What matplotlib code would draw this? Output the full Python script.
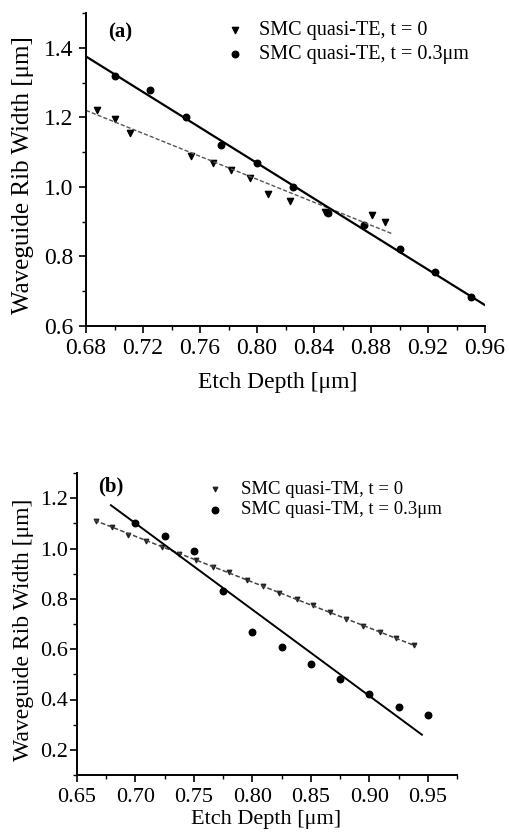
import matplotlib
matplotlib.use("Agg")
import matplotlib.pyplot as plt
from matplotlib.ticker import MultipleLocator, FormatStrFormatter

plt.rcParams['font.family'] = ['Liberation Serif', 'DejaVu Serif']
plt.rcParams['mathtext.fontset'] = 'stix'

# panel (a): quasi-TE
te0_x = [0.688, 0.700, 0.711, 0.754, 0.769, 0.782, 0.795, 0.808, 0.823, 0.848, 0.881, 0.890]
te0_y = [1.220, 1.195, 1.155, 1.090, 1.068, 1.048, 1.025, 0.980, 0.960, 0.928, 0.920, 0.900]
te0_fit_x = [0.680, 0.895]
te0_fit_y = [1.220, 0.865]

te3_x = [0.700, 0.725, 0.750, 0.775, 0.800, 0.825, 0.850, 0.875, 0.900, 0.925, 0.950]
te3_y = [1.320, 1.280, 1.200, 1.120, 1.070, 1.000, 0.925, 0.890, 0.820, 0.755, 0.682]
te3_fit_x = [0.680, 0.960]
te3_fit_y = [1.375, 0.660]

# panel (b): quasi-TM
tm0_x = [0.666, 0.680, 0.694, 0.709, 0.723, 0.737, 0.752, 0.766, 0.780, 0.795,
         0.809, 0.823, 0.838, 0.852, 0.866, 0.880, 0.895, 0.909, 0.923, 0.938]
tm0_y = [1.110, 1.085, 1.055, 1.030, 1.005, 0.978, 0.955, 0.928, 0.905, 0.875,
         0.850, 0.825, 0.798, 0.775, 0.748, 0.720, 0.693, 0.668, 0.643, 0.615]
tm0_fit_x = [0.665, 0.940]
tm0_fit_y = [1.112, 0.612]

tm3_x = [0.700, 0.725, 0.750, 0.775, 0.800, 0.825, 0.850, 0.875, 0.900, 0.925, 0.950]
tm3_y = [1.100, 1.050, 0.990, 0.830, 0.670, 0.610, 0.540, 0.480, 0.420, 0.370, 0.340]
tm3_fit_x = [0.679, 0.945]
tm3_fit_y = [1.172, 0.260]

W, H = 509, 836
fig = plt.figure(figsize=(W / 100, H / 100), dpi=100)

def px_axes(l, t, r, b):
    return fig.add_axes([l / W, 1 - b / H, (r - l) / W, (b - t) / H])

def style(ax, size):
    for s in ('top', 'right'):
        ax.spines[s].set_visible(False)
    for s in ('left', 'bottom'):
        ax.spines[s].set_linewidth(1.4)
    ax.tick_params(which='major', direction='out', length=5, width=1.2, labelsize=size)
    ax.tick_params(which='minor', direction='out', length=3, width=1.0)

ax1 = px_axes(86, 13, 485, 326)
ax1.plot(te0_fit_x, te0_fit_y, ls='--', lw=1.0, color='#555555', dashes=(3, 1.5))
ax1.plot(te3_fit_x, te3_fit_y, ls='-', lw=1.6, color='black')
ax1.scatter(te0_x, te0_y, marker='v', s=20, color='black', label='SMC quasi-TE, t = 0')
ax1.scatter(te3_x, te3_y, marker='o', s=22, color='black', label='SMC quasi-TE, t = 0.3μm')
ax1.set_xlim(0.68, 0.96)
ax1.set_ylim(0.6, 1.5)
ax1.xaxis.set_major_locator(MultipleLocator(0.04))
ax1.xaxis.set_minor_locator(MultipleLocator(0.02))
ax1.xaxis.set_major_formatter(FormatStrFormatter('%.2f'))
ax1.yaxis.set_major_locator(MultipleLocator(0.2))
ax1.yaxis.set_minor_locator(MultipleLocator(0.1))
ax1.yaxis.set_major_formatter(FormatStrFormatter('%.1f'))
style(ax1, 17)
ax1.tick_params(axis='x', which='major', pad=4)
ax1.tick_params(axis='y', which='major', pad=4)
ax1.set_xlabel('Etch Depth [μm]', fontsize=17)
ax1.xaxis.set_label_coords(0.48, -0.147)
ax1.set_ylabel('Waveguide Rib Width [μm]', fontsize=18)
ax1.yaxis.set_label_coords(-0.13, 0.482)
ax1.text(0.055, 0.939, '(a)', transform=ax1.transAxes, fontsize=15, fontweight='bold', va='center')
ax1.legend(loc='upper left', bbox_to_anchor=(0.315, 1.0), frameon=False, fontsize=14.5,
           handletextpad=0.45, borderaxespad=0, labelspacing=0.25, scatterpoints=1, handlelength=1.5)

ax2 = px_axes(77, 473, 457, 775)
ax2.plot(tm0_fit_x, tm0_fit_y, ls='--', lw=1.1, color='#444444', dashes=(3, 1.5))
ax2.plot(tm3_fit_x, tm3_fit_y, ls='-', lw=1.4, color='black')
ax2.scatter(tm0_x, tm0_y, marker='v', s=10, color='#222222', label='SMC quasi-TM, t = 0')
ax2.scatter(tm3_x, tm3_y, marker='o', s=22, color='black', label='SMC quasi-TM, t = 0.3μm')
ax2.set_xlim(0.65, 0.975)
ax2.set_ylim(0.1, 1.3)
ax2.xaxis.set_major_locator(MultipleLocator(0.05))
ax2.xaxis.set_minor_locator(MultipleLocator(0.025))
ax2.xaxis.set_major_formatter(FormatStrFormatter('%.2f'))
ax2.yaxis.set_major_locator(MultipleLocator(0.2))
ax2.yaxis.set_minor_locator(MultipleLocator(0.1))
ax2.yaxis.set_major_formatter(FormatStrFormatter('%.1f'))
style(ax2, 16)
ax2.tick_params(axis='x', which='major', pad=4.5)
ax2.tick_params(axis='y', which='major', pad=1.5)
ax2.set_xlabel('Etch Depth [μm]', fontsize=16)
ax2.xaxis.set_label_coords(0.497, -0.116)
ax2.set_ylabel('Waveguide Rib Width [μm]', fontsize=17)
ax2.yaxis.set_label_coords(-0.113, 0.48)
ax2.text(0.055, 0.954, '(b)', transform=ax2.transAxes, fontsize=15, fontweight='bold', va='center')
ax2.legend(loc='upper left', bbox_to_anchor=(0.306, 1.0), frameon=False, fontsize=13.5,
           handletextpad=0.67, borderaxespad=0, labelspacing=0.2, scatterpoints=1, handlelength=1.5)

fig.savefig('out.png', dpi=100)
